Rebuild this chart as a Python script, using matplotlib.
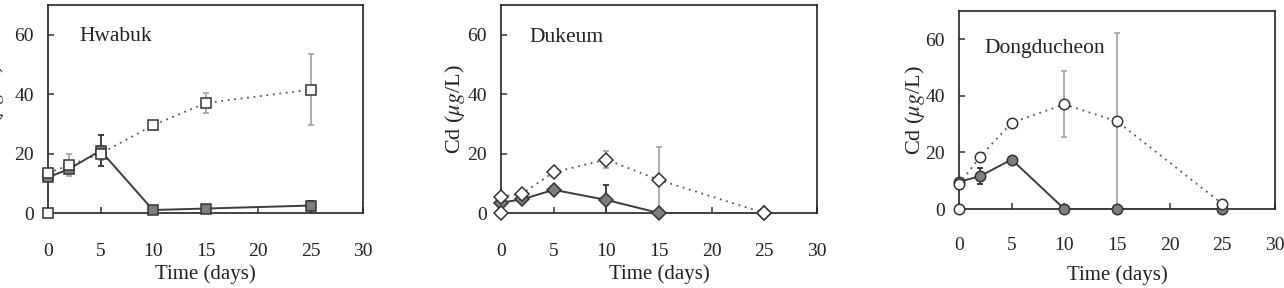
import matplotlib
matplotlib.use("Agg")
import matplotlib.pyplot as plt

plt.rcParams['font.family'] = ['Liberation Serif', 'DejaVu Serif']
plt.rcParams['mathtext.fontset'] = 'stix'

# ---- data ----
days = [0, 2, 5, 10, 15, 25]

sites = ["Hwabuk", "Dukeum", "Dongducheon"]
markers = ["s", "D", "o"]

hwabuk_open = [13.5, 16, 20, 29.5, 37, 41.5]
hwabuk_open_err = [1.5, 3.7, 2, 1.5, 3.5, 12]
hwabuk_fill = [12, 14.8, 21, 1, 1.5, 2.5]
hwabuk_fill_err = [1, 1, 5.3, 0.5, 0.5, 1.5]

dukeum_open = [5.5, 6.5, 13.7, 18, 11.1, 0]
dukeum_open_err = [0.5, 1, 0.8, 3, 11.2, 0]
dukeum_fill = [3.5, 4.6, 7.8, 4.4, 0, 0]
dukeum_fill_err = [0.5, 0.8, 1, 5, 0, 0]

dong_open = [8.7, 18.5, 30.5, 37, 31, 1.8]
dong_open_err = [1, 1, 1, 11.7, 31.3, 0.5]
dong_fill = [9.6, 11.6, 17.5, 0, 0, 0]
dong_fill_err = [0.5, 2.8, 1, 0, 0, 0]

control_x = [0]
control_y = [0]

xticks = [0, 5, 10, 15, 20, 25, 30]
yticks = [0, 20, 40, 60]

open_vals = [hwabuk_open, dukeum_open, dong_open]
open_errs = [hwabuk_open_err, dukeum_open_err, dong_open_err]
fill_vals = [hwabuk_fill, dukeum_fill, dong_fill]
fill_errs = [hwabuk_fill_err, dukeum_fill_err, dong_fill_err]

# ---- layout ----
W, H = 1284, 288
rects_px = [(48, 5, 363, 213), (501, 5, 817, 213), (959, 11, 1275, 209)]
ylabel_x = [-0.171, -0.145, -0.139]
xtick_pad = [21.5, 21.5, 20.5]
xlabel_pad = [3, 3, 8]
label_pos = [(2.95, 59.3), (2.7, 59.0), (2.45, 56.7)]

fig = plt.figure(figsize=(W / 100, H / 100), dpi=100)

dark = '#333333'
line_dark = '#3c3c3c'
gray_err = '#a8a8a8'
fill_col = '#7d7d7d'
txt = '#222222'

for i in range(3):
    l, t, r, b = rects_px[i]
    ax = fig.add_axes([l / W, 1 - b / H, (r - l) / W, (b - t) / H])
    ax.set_xlim(0, 30)
    ax.set_ylim(0, 70)
    m = markers[i]
    ms = 7.5 if m == 's' else (7 if m == 'D' else 7.5)

    # error bars (clipped at axis)
    ax.errorbar(days, open_vals[i], yerr=open_errs[i], fmt='none',
                ecolor=gray_err, elinewidth=1.3, capsize=2.5, capthick=1.3, zorder=2)
    ax.errorbar(days, fill_vals[i], yerr=fill_errs[i], fmt='none',
                ecolor=dark, elinewidth=1.3, capsize=2.5, capthick=1.3, zorder=3)

    # filled series (solid line)
    ax.plot(days, fill_vals[i], '-', color=line_dark, lw=1.4, zorder=4)
    ax.plot(days, fill_vals[i], linestyle='none', marker=m, ms=ms,
            mfc=fill_col, mec=dark, mew=1.1, zorder=5, clip_on=False)

    # open series (dotted line)
    ax.plot(days, open_vals[i], linestyle=(0, (1, 2.6)), color='#555555',
            lw=1.3, zorder=6)
    ax.plot(days, open_vals[i], linestyle='none', marker=m, ms=ms,
            mfc='white', mec=dark, mew=1.1, zorder=7, clip_on=False)

    # control point
    ax.plot(control_x, control_y, linestyle='none', marker=m, ms=ms,
            mfc='white', mec=dark, mew=1.1, zorder=8, clip_on=False)

    ax.set_xticks(xticks)
    ax.set_yticks(yticks)
    ax.tick_params(direction='in', length=4, width=1.1, colors='#333333',
                   labelsize=14, labelcolor=txt)
    ax.tick_params(axis='x', pad=xtick_pad[i])
    ax.tick_params(axis='y', pad=10)
    for s in ax.spines.values():
        s.set_linewidth(1.2)
        s.set_color(txt)

    ax.set_xlabel('Time (days)', fontsize=15, color=txt, labelpad=xlabel_pad[i])
    ax.set_ylabel(r'Cd ($\mu g$/L)', fontsize=16, color=txt)
    ax.yaxis.set_label_coords(ylabel_x[i], 0.5)
    ax.yaxis.label.set_va('center')

    ax.text(label_pos[i][0], label_pos[i][1], sites[i], fontsize=15.5,
            color=txt, ha='left', va='center')

fig.savefig('out.png', dpi=100)
